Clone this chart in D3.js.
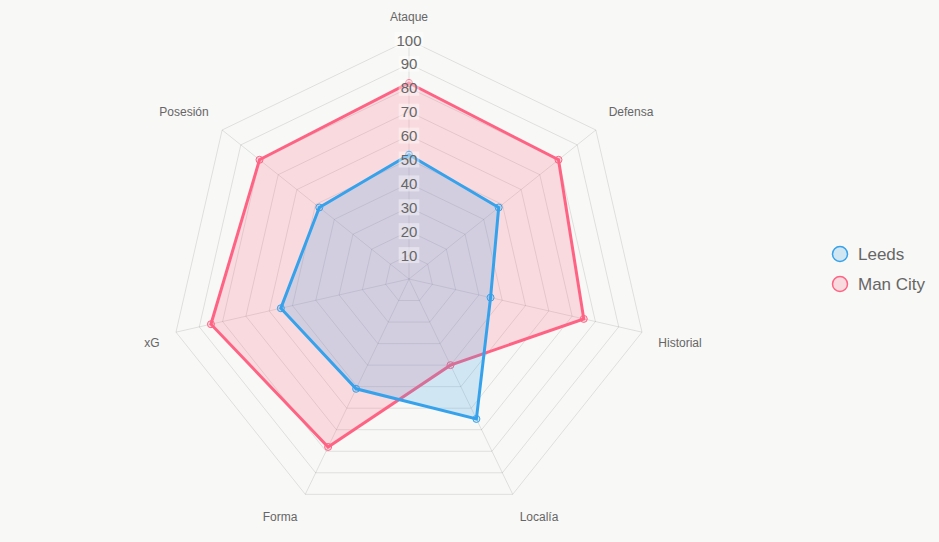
<!DOCTYPE html>
<html><head><meta charset="utf-8">
<script src="https://cdn.jsdelivr.net/npm/d3@7"></script>
<style>html,body{margin:0;padding:0;background:#f8f8f6;}svg{display:block;}</style>
</head><body><svg id="c" width="939" height="542"></svg>
<script>
const axesLabels = ["Ataque","Defensa","Historial","Localía","Forma","xG","Posesión"];
const leedsValues = [52,48,35,65,51,55,48];
const cityValues = [82,80,75,40,78,85,80];
const tickValues = [10,20,30,40,50,60,70,80,90,100];
const seriesNames = ["Leeds","Man City"];

const series = [
  {name: seriesNames[0], values: leedsValues, stroke: "rgb(54,162,235)", fill: "rgba(54,162,235,0.2)"},
  {name: seriesNames[1], values: cityValues, stroke: "rgb(255,99,132)", fill: "rgba(255,99,132,0.2)"}
];

const svg = d3.select("#c");
const cx = 409, cy = 279, R = 239;
const r = d3.scaleLinear().domain([0,100]).range([0,R]);
const n = axesLabels.length;
const ang = d3.scaleLinear().domain([0,n]).range([0,2*Math.PI]);
const pt = (i,v) => [cx + r(v)*Math.sin(ang(i)), cy - r(v)*Math.cos(ang(i))];
const font = "Helvetica, Arial, 'Liberation Sans', sans-serif";

const grid = svg.append("g");
tickValues.forEach(t => {
  const pts = d3.range(n).map(i => pt(i,t));
  grid.append("polygon").attr("points", pts.map(p=>p.join(",")).join(" "))
    .attr("fill","none").attr("stroke","rgba(0,0,0,0.1)").attr("stroke-width",1);
});
d3.range(n).forEach(i => {
  const p = pt(i,100);
  grid.append("line").attr("x1",cx).attr("y1",cy).attr("x2",p[0]).attr("y2",p[1])
    .attr("stroke","rgba(0,0,0,0.1)").attr("stroke-width",1);
});

// series: draw last dataset first so the first is on top
const line = d3.lineRadial().angle((d,i)=>ang(i)).radius(d=>r(d)).curve(d3.curveLinearClosed);
series.slice().reverse().forEach(s => {
  const g = svg.append("g");
  g.append("path").attr("transform",`translate(${cx},${cy})`).attr("d", line(s.values))
    .attr("fill", s.fill).attr("stroke", s.stroke).attr("stroke-width",3).attr("stroke-linejoin","miter");
  s.values.forEach((v,i) => {
    const p = pt(i,v);
    g.append("circle").attr("cx",p[0]).attr("cy",p[1]).attr("r",3.5)
      .attr("fill", s.fill).attr("stroke", s.stroke).attr("stroke-width",1);
  });
});

// tick labels
const tg = svg.append("g");
tickValues.forEach(t => {
  const y = cy - r(t);
  const txt = tg.append("text").attr("x",cx).attr("y",y).attr("text-anchor","middle")
    .attr("dominant-baseline","central").attr("font-family",font).attr("font-size",15)
    .attr("fill","#666").text(t);
  const bb = txt.node().getBBox();
  tg.insert("rect", () => txt.node()).attr("x",bb.x-2).attr("y",y-8).attr("width",bb.width+4).attr("height",16)
    .attr("fill","rgba(255,255,255,0.4)");
});

// point labels
const labelPos = [[409,17],[631,112],[680,343],[539,517],[280,517],[152,343],[184,112]];
axesLabels.forEach((l,i) => {
  svg.append("text").attr("x",labelPos[i][0]).attr("y",labelPos[i][1])
    .attr("text-anchor","middle").attr("dominant-baseline","central")
    .attr("font-family",font).attr("font-size",12).attr("fill","#666").text(l);
});

// legend
const lg = svg.append("g");
series.forEach((s,i) => {
  const y = 254 + i*30;
  lg.append("circle").attr("cx",840).attr("cy",y).attr("r",7.5)
    .attr("fill",s.fill).attr("stroke",s.stroke).attr("stroke-width",1.5);
  lg.append("text").attr("x",858).attr("y",y).attr("dominant-baseline","central")
    .attr("font-family",font).attr("font-size",17).attr("fill","#666").text(s.name);
});
</script></body></html>
